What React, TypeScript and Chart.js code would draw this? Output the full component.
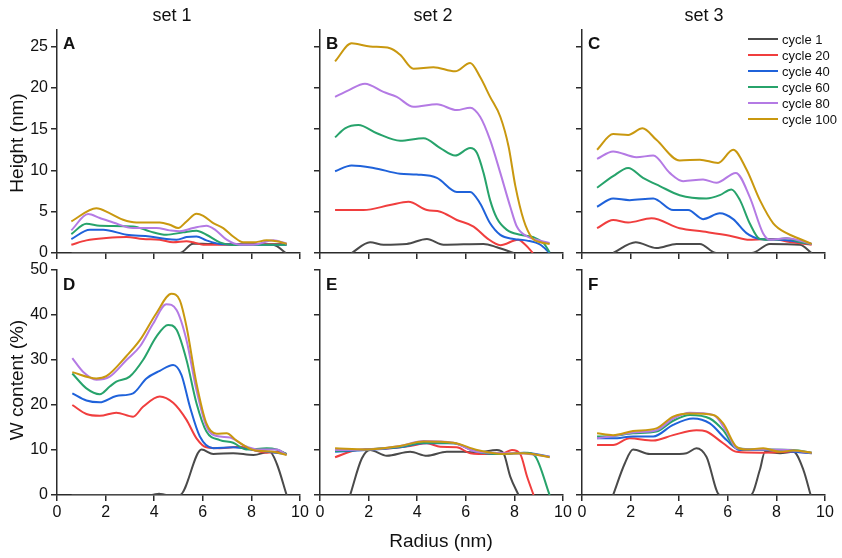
import React, { useEffect, useRef } from "react";
import { Chart, registerables } from "chart.js";

Chart.register(...registerables);

type Pt = [number, number];

const cycleLabels = ["cycle 1", "cycle 20", "cycle 40", "cycle 60", "cycle 80", "cycle 100"];
const cycleColors = ["#4a4a4a", "#f03e3e", "#1f62da", "#27a36b", "#b47ae4", "#c9980f"];
const setTitles = ["set 1", "set 2", "set 3"];
const panelLetters = ["A", "B", "C", "D", "E", "F"];
const xRange = [0, 10];
const xStep = 2;
const heightRange = [0, 27];
const heightStep = 5;
const wRange = [0, 50];
const wStep = 10;
const xTitle = "Radius (nm)";
const heightTitle = "Height (nm)";
const wTitle = "W content (%)";

// ---- Height, set 1 (A)
const h1_c1: Pt[] = [[0.6, 0], [5.05, 0], [5.6, 1.13], [6.2, 1.1], [7.5, 1.05], [8.5, 1.05], [8.9, 1.0], [9.42, 0]];
const h1_c20: Pt[] = [[0.59, 1.0], [1.21, 1.53], [2.03, 1.81], [2.86, 1.93], [3.54, 1.69], [4.23, 1.61], [4.78, 1.29], [5.33, 1.41], [5.6, 1.29], [6.02, 1.0], [7.25, 1.0], [8.63, 1.09], [9.45, 1.09]];
const h1_c40: Pt[] = [[0.59, 1.69], [1.35, 2.82], [1.9, 2.82], [2.86, 2.21], [3.82, 2.01], [4.5, 1.69], [4.92, 1.61], [5.33, 1.93], [5.74, 2.01], [6.15, 1.53], [6.7, 1.09], [7.53, 1.0], [9.45, 1.0]];
const h1_c60: Pt[] = [[0.59, 2.29], [1.21, 3.54], [1.76, 3.3], [3.13, 3.22], [3.82, 2.62], [4.5, 2.21], [5.19, 2.5], [5.74, 2.7], [6.15, 2.21], [6.7, 1.29], [7.25, 0.97], [8.08, 1.0], [9.45, 1.0]];
const h1_c80: Pt[] = [[0.59, 2.74], [1.28, 4.71], [1.76, 4.23], [2.31, 3.7], [3.13, 3.02], [4.09, 3.02], [4.64, 2.74], [5.05, 2.62], [5.6, 3.02], [6.15, 3.3], [6.5, 2.82], [6.98, 1.61], [7.53, 1.0], [8.08, 1.0], [8.9, 1.53], [9.45, 1.13]];
const h1_c100: Pt[] = [[0.59, 3.82], [1.62, 5.43], [2.16, 4.83], [2.72, 4.03], [3.27, 3.7], [4.23, 3.7], [4.64, 3.42], [4.99, 3.02], [5.33, 3.82], [5.74, 4.75], [6.02, 4.5], [6.43, 3.62], [6.84, 3.02], [7.25, 2.0], [7.66, 1.29], [8.08, 1.29], [8.63, 1.53], [9.04, 1.41], [9.45, 1.13]];

// ---- Height, set 2 (B)
const h2_c1: Pt[] = [[1.3, 0], [2.06, 1.3], [2.61, 1.0], [3.57, 1.1], [4.4, 1.7], [5.08, 1.0], [6.73, 1.1], [7.28, 0.7], [7.97, 0]];
const h2_c20: Pt[] = [[0.62, 5.2], [1.79, 5.2], [2.88, 5.8], [3.64, 6.2], [4.4, 5.2], [4.95, 5.0], [5.63, 4.0], [6.32, 3.2], [6.87, 1.8], [7.42, 0.95], [8.15, 1.6], [8.45, 1.0], [8.76, 0]];
const h2_c40: Pt[] = [[0.62, 9.9], [1.3, 10.6], [2.2, 10.3], [3.3, 9.6], [3.98, 9.5], [4.81, 9.1], [5.63, 7.4], [6.18, 7.4], [6.59, 6.0], [7.0, 3.6], [7.42, 2.2], [7.97, 1.7], [8.52, 1.5], [9.07, 1.0], [9.45, 0]];
const h2_c60: Pt[] = [[0.62, 14.0], [1.03, 15.1], [1.58, 15.5], [2.34, 14.5], [3.3, 13.6], [4.26, 13.9], [4.95, 12.7], [5.56, 11.8], [6.18, 12.7], [6.46, 12.1], [6.73, 9.7], [7.0, 6.4], [7.28, 4.2], [7.69, 2.8], [8.24, 2.2], [8.79, 1.9], [9.2, 1.2], [9.45, 0.1]];
const h2_c80: Pt[] = [[0.62, 18.9], [1.17, 19.7], [1.85, 20.5], [2.61, 19.5], [3.16, 18.9], [3.85, 17.7], [4.81, 18.0], [5.63, 17.3], [6.18, 17.6], [6.59, 16.5], [7.0, 13.7], [7.42, 9.7], [7.83, 5.6], [8.1, 3.2], [8.52, 2.0], [9.07, 1.5], [9.45, 1.2]];
const h2_c100: Pt[] = [[0.62, 23.2], [1.3, 25.4], [2.06, 25.0], [2.88, 24.8], [3.3, 24.0], [3.85, 22.3], [4.67, 22.5], [5.56, 22.0], [6.18, 23.0], [6.59, 21.3], [7.0, 18.9], [7.42, 16.5], [7.76, 12.9], [8.04, 8.1], [8.38, 4.0], [8.73, 1.8], [9.07, 1.3], [9.45, 1.1]];

// ---- Height, set 3 (C)
const h3_c1: Pt[] = [[1.28, 0], [2.21, 1.3], [3.06, 0.6], [3.89, 1.1], [4.85, 1.1], [5.53, 0], [6.98, 0], [7.73, 1.1], [8.97, 1.0], [9.45, 0]];
const h3_c20: Pt[] = [[0.62, 3.0], [1.28, 4.0], [1.9, 3.7], [2.86, 4.2], [4.02, 3.0], [4.98, 2.6], [6.08, 2.1], [6.9, 1.6], [7.87, 1.7], [8.42, 1.4], [9.45, 1.0]];
const h3_c40: Pt[] = [[0.62, 5.6], [1.28, 6.6], [1.96, 6.4], [2.93, 6.6], [3.75, 5.2], [4.37, 5.2], [4.98, 4.1], [5.67, 4.8], [6.22, 4.1], [6.77, 2.4], [7.32, 1.7], [8.15, 1.6], [9.45, 1.1]];
const h3_c60: Pt[] = [[0.62, 7.9], [1.28, 9.3], [1.9, 10.3], [2.51, 9.1], [3.2, 8.1], [4.02, 7.0], [5.12, 6.6], [5.67, 7.0], [6.15, 7.7], [6.5, 6.4], [6.9, 3.6], [7.32, 1.7], [7.87, 1.6], [8.42, 1.8], [8.97, 1.3], [9.45, 1.1]];
const h3_c80: Pt[] = [[0.62, 11.4], [1.28, 12.3], [2.24, 11.6], [2.93, 11.8], [3.61, 9.7], [4.16, 8.7], [4.98, 8.9], [5.53, 8.5], [6.33, 9.7], [6.9, 6.8], [7.45, 2.4], [7.73, 1.6], [8.42, 1.8], [9.45, 1.1]];
const h3_c100: Pt[] = [[0.62, 12.5], [1.28, 14.4], [1.9, 14.3], [2.49, 15.1], [3.06, 13.7], [4.02, 11.2], [4.85, 11.3], [5.6, 10.9], [6.22, 12.5], [6.77, 10.1], [7.32, 6.4], [7.87, 3.6], [8.42, 2.4], [8.97, 1.7], [9.45, 1.1]];

// ---- W content, set 1 (D)
const w1_c1: Pt[] = [[0.6, 0], [3.9, 0], [4.2, 0.3], [4.5, 0], [5.05, 0], [5.95, 10.1], [6.43, 9.1], [7.25, 9.3], [8.08, 8.9], [8.76, 9.6], [9.04, 7.0], [9.45, 0]];
const w1_c20: Pt[] = [[0.63, 20.0], [1.21, 18.0], [1.76, 17.6], [2.44, 18.3], [3.13, 17.4], [3.54, 19.6], [4.23, 21.9], [4.78, 20.5], [5.33, 16.7], [5.74, 12.6], [6.15, 10.6], [6.7, 10.4], [7.53, 10.7], [8.08, 10.0], [8.63, 9.4], [9.18, 9.6], [9.45, 9.1]];
const w1_c40: Pt[] = [[0.63, 22.6], [1.21, 21.0], [1.76, 20.6], [2.44, 22.0], [3.13, 22.6], [3.68, 25.9], [4.23, 27.6], [4.78, 28.9], [5.12, 26.7], [5.47, 19.6], [5.88, 13.0], [6.43, 10.4], [7.25, 10.6], [8.08, 10.0], [9.45, 9.1]];
const w1_c60: Pt[] = [[0.63, 27.0], [1.21, 23.7], [1.76, 22.4], [2.17, 24.1], [2.44, 25.2], [2.99, 26.3], [3.54, 30.0], [4.09, 35.2], [4.57, 37.8], [4.92, 36.7], [5.33, 30.0], [5.74, 20.4], [6.15, 14.1], [6.7, 12.2], [7.25, 11.6], [7.8, 10.1], [8.63, 10.4], [9.04, 10.1], [9.45, 9.1]];
const w1_c80: Pt[] = [[0.63, 30.4], [1.07, 27.4], [1.62, 25.6], [2.17, 26.3], [2.86, 30.0], [3.41, 33.0], [3.96, 38.1], [4.5, 42.4], [4.92, 41.1], [5.33, 34.4], [5.74, 23.3], [6.15, 15.2], [6.57, 13.1], [7.12, 12.8], [7.66, 11.1], [8.35, 10.1], [9.04, 10.1], [9.45, 8.9]];
const w1_c100: Pt[] = [[0.63, 27.3], [1.62, 25.9], [2.03, 26.4], [2.86, 30.9], [3.41, 34.4], [4.09, 40.4], [4.71, 44.7], [5.05, 43.3], [5.33, 37.4], [5.74, 24.8], [6.15, 15.9], [6.57, 13.6], [6.98, 13.7], [7.39, 12.1], [8.08, 10.0], [8.9, 9.6], [9.45, 8.9]];

// ---- W content, set 2 (E)
const w2_c1: Pt[] = [[1.24, 0], [1.72, 8.1], [2.06, 10.0], [2.75, 8.7], [3.71, 9.6], [4.4, 8.7], [5.22, 9.6], [5.91, 9.6], [6.46, 9.4], [7.28, 10.0], [7.55, 9.3], [7.83, 4.1], [8.17, 0]];
const w2_c20: Pt[] = [[0.62, 8.4], [1.51, 10.0], [2.88, 10.4], [3.71, 10.9], [4.4, 11.5], [4.95, 10.7], [5.63, 10.6], [6.18, 9.3], [7.0, 9.1], [7.55, 9.3], [7.9, 10.0], [8.24, 9.1], [8.52, 4.1], [8.79, 0]];
const w2_c40: Pt[] = [[0.62, 9.6], [1.92, 10.0], [3.3, 10.6], [4.26, 11.5], [5.49, 11.5], [6.46, 9.6], [7.55, 9.1], [8.38, 9.4], [9.45, 8.5]];
const w2_c60: Pt[] = [[0.62, 9.8], [1.92, 10.1], [3.3, 10.7], [4.26, 11.6], [5.49, 11.5], [6.46, 9.6], [7.55, 9.1], [8.52, 9.4], [8.86, 8.6], [9.45, 0]];
const w2_c80: Pt[] = [[0.62, 10.0], [1.92, 10.1], [3.3, 10.9], [4.26, 12.0], [5.49, 11.6], [6.46, 9.6], [7.55, 9.3], [8.38, 9.2], [9.45, 8.5]];
const w2_c100: Pt[] = [[0.62, 10.4], [1.92, 10.1], [3.3, 10.9], [4.26, 11.9], [5.49, 11.6], [6.46, 10.0], [7.55, 9.1], [8.38, 9.3], [9.45, 8.4]];

// ---- W content, set 3 (F)
const w3_c1: Pt[] = [[1.28, 0], [1.76, 7.0], [2.1, 10.1], [2.79, 9.1], [3.61, 9.1], [4.3, 9.3], [4.71, 10.4], [5.12, 8.5], [5.67, 0], [6.94, 0], [7.32, 5.6], [7.53, 9.6], [8.15, 9.3], [8.7, 9.6], [9.11, 5.6], [9.41, 0]];
const w3_c20: Pt[] = [[0.62, 11.1], [1.28, 11.1], [1.96, 12.6], [2.93, 12.1], [3.75, 13.3], [4.71, 14.4], [5.12, 14.1], [5.81, 11.5], [6.36, 9.6], [7.32, 9.4], [8.7, 9.6], [9.45, 9.3]];
const w3_c40: Pt[] = [[0.62, 12.6], [1.28, 12.6], [2.1, 13.0], [2.93, 13.0], [3.75, 15.6], [4.57, 17.0], [5.26, 15.9], [5.95, 12.2], [6.5, 10.0], [7.6, 10.0], [8.7, 9.6], [9.45, 9.3]];
const w3_c60: Pt[] = [[0.62, 13.0], [1.28, 13.1], [2.1, 13.7], [3.06, 14.1], [3.75, 16.5], [4.44, 17.8], [5.26, 17.0], [5.81, 14.4], [6.36, 10.4], [7.6, 10.1], [8.7, 10.0], [9.45, 9.4]];
const w3_c80: Pt[] = [[0.62, 12.6], [1.28, 13.1], [2.1, 13.9], [3.06, 14.4], [3.75, 17.0], [4.44, 18.3], [5.4, 17.8], [5.95, 14.1], [6.36, 10.4], [7.32, 10.1], [8.7, 9.9], [9.45, 9.4]];
const w3_c100: Pt[] = [[0.62, 13.7], [1.28, 13.3], [2.1, 14.2], [3.06, 14.8], [3.75, 17.4], [4.44, 18.1], [5.4, 17.8], [5.81, 15.9], [6.36, 10.7], [6.77, 10.1], [7.46, 10.4], [8.15, 9.6], [8.7, 9.9], [9.45, 9.4]];

const heightSets: Pt[][][] = [
  [h1_c1, h1_c20, h1_c40, h1_c60, h1_c80, h1_c100],
  [h2_c1, h2_c20, h2_c40, h2_c60, h2_c80, h2_c100],
  [h3_c1, h3_c20, h3_c40, h3_c60, h3_c80, h3_c100],
];
const wSets: Pt[][][] = [
  [w1_c1, w1_c20, w1_c40, w1_c60, w1_c80, w1_c100],
  [w2_c1, w2_c20, w2_c40, w2_c60, w2_c80, w2_c100],
  [w3_c1, w3_c20, w3_c40, w3_c60, w3_c80, w3_c100],
];

// layout (pixels)
const colLeft = [57, 320, 582];
const colWidth = 243;
const rowTop = [30, 270];
const rowHeight = [223, 225];
const PADL = 52;
const PADT = 12;
const PADR = 16;
const PADB = 30;
const FONT = "'Liberation Sans', Arial, Helvetica, sans-serif";
const AXIS_COLOR = "#2b2b2b";

type PanelProps = {
  series: Pt[][];
  left: number;
  top: number;
  width: number;
  height: number;
  yMin: number;
  yMax: number;
  yStep: number;
  showY: boolean;
  showX: boolean;
};

function Panel({ series, left, top, width, height, yMin, yMax, yStep, showY, showX }: PanelProps) {
  const ref = useRef<HTMLCanvasElement>(null);
  const cw = width + PADL + PADR;
  const ch = height + PADT + PADB;

  useEffect(() => {
    if (!ref.current) return;
    const datasets = series
      .map((s, i) => ({
        label: cycleLabels[i],
        data: s.map(([x, y]) => ({ x, y })),
        borderColor: cycleColors[i],
        backgroundColor: cycleColors[i],
        borderWidth: 2,
        pointRadius: 0,
        pointHoverRadius: 0,
        cubicInterpolationMode: "monotone" as const,
        fill: false,
      }))
      .reverse();

    const chart = new Chart(ref.current, {
      type: "line",
      data: { datasets },
      options: {
        animation: false,
        responsive: false,
        maintainAspectRatio: false,
        devicePixelRatio: 1,
        layout: { padding: { left: 0, top: PADT, right: PADR, bottom: 0 } },
        plugins: { legend: { display: false }, tooltip: { enabled: false } },
        events: [],
        scales: {
          x: {
            type: "linear",
            min: xRange[0],
            max: xRange[1],
            ticks: {
              stepSize: xStep,
              display: showX,
              includeBounds: false,
              maxRotation: 0,
              padding: 2,
              color: "#111",
              font: { family: FONT, size: 16 },
            },
            grid: { drawOnChartArea: false, drawTicks: true, tickLength: 6, color: AXIS_COLOR, lineWidth: 1.5 },
            border: { display: true, color: AXIS_COLOR, width: 1.5 },
            afterFit: (s: any) => {
              s.height = PADB;
              s.paddingLeft = 0;
              s.paddingRight = 0;
            },
          },
          y: {
            type: "linear",
            min: yMin,
            max: yMax,
            ticks: {
              stepSize: yStep,
              display: showY,
              includeBounds: false,
              padding: 3,
              color: "#111",
              font: { family: FONT, size: 16 },
            },
            grid: { drawOnChartArea: false, drawTicks: true, tickLength: 6, color: AXIS_COLOR, lineWidth: 1.5 },
            border: { display: true, color: AXIS_COLOR, width: 1.5 },
            afterFit: (s: any) => {
              s.width = PADL;
              s.paddingTop = 0;
              s.paddingBottom = 0;
            },
          },
        },
      } as any,
    });
    return () => chart.destroy();
  }, [series, showX, showY, yMin, yMax, yStep]);

  return (
    <canvas
      ref={ref}
      width={cw}
      height={ch}
      style={{ position: "absolute", left: left - PADL, top: top - PADT, width: cw, height: ch }}
    />
  );
}

const textBase: React.CSSProperties = {
  position: "absolute",
  fontFamily: FONT,
  color: "#111",
  whiteSpace: "nowrap",
  lineHeight: 1,
};

export default function App() {
  const titleCenters = [172, 433, 704];
  const letterCenterY = [42.5, 284];
  return (
    <div style={{ position: "absolute", left: 0, top: 0, width: 842, height: 558, background: "#fff", overflow: "hidden" }}>
      {[0, 1].map((r) =>
        [0, 1, 2].map((c) => (
          <Panel
            key={`${r}-${c}`}
            series={r === 0 ? heightSets[c] : wSets[c]}
            left={colLeft[c]}
            top={rowTop[r]}
            width={colWidth}
            height={rowHeight[r]}
            yMin={r === 0 ? heightRange[0] : wRange[0]}
            yMax={r === 0 ? heightRange[1] : wRange[1]}
            yStep={r === 0 ? heightStep : wStep}
            showY={c === 0}
            showX={r === 1}
          />
        ))
      )}

      {setTitles.map((t, i) => (
        <div key={t} style={{ ...textBase, fontSize: 18, left: titleCenters[i], top: 14.5, transform: "translate(-50%, -50%)" }}>
          {t}
        </div>
      ))}

      {panelLetters.map((l, i) => {
        const r = Math.floor(i / 3);
        const c = i % 3;
        return (
          <div
            key={l}
            style={{ ...textBase, fontSize: 17, fontWeight: "bold", left: colLeft[c] + 6, top: letterCenterY[r], transform: "translate(0, -50%)" }}
          >
            {l}
          </div>
        );
      })}

      <div style={{ ...textBase, fontSize: 19, left: 16, top: 143, transform: "translate(-50%, -50%) rotate(-90deg)" }}>{heightTitle}</div>
      <div style={{ ...textBase, fontSize: 19, left: 16, top: 380, transform: "translate(-50%, -50%) rotate(-90deg)" }}>{wTitle}</div>
      <div style={{ ...textBase, fontSize: 19, left: 441, top: 540, transform: "translate(-50%, -50%)" }}>{xTitle}</div>

      {cycleLabels.map((lab, i) => (
        <div key={lab} style={{ position: "absolute", left: 748, top: 39 + 16 * i - 8, height: 16, display: "flex", alignItems: "center" }}>
          <div style={{ width: 30, height: 2.5, background: cycleColors[i] }} />
          <div style={{ ...textBase, position: "static", fontSize: 13, marginLeft: 4 }}>{lab}</div>
        </div>
      ))}
    </div>
  );
}
